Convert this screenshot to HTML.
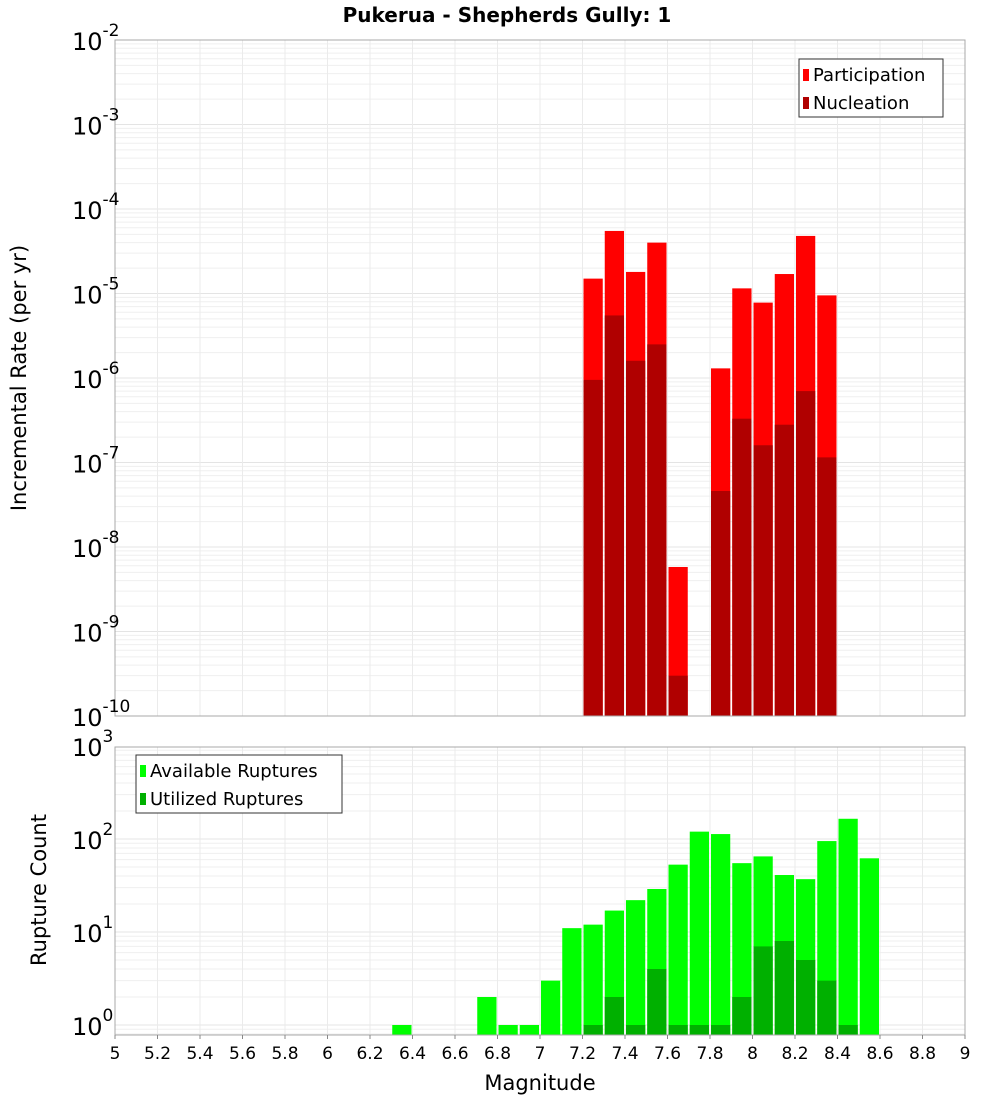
<!DOCTYPE html>
<html><head><meta charset="utf-8"><style>
body{margin:0;background:#fff;font-family:"DejaVu Sans","Liberation Sans",sans-serif}
svg text{font-family:"DejaVu Sans","Liberation Sans",sans-serif}
</style></head><body>
<svg id="c" width="1000" height="1100" xmlns="http://www.w3.org/2000/svg">
<rect width="1000" height="1100" fill="#fff"/>
<text x="507" y="22" text-anchor="middle" font-size="20" font-weight="bold">Pukerua - Shepherds Gully: 1</text>
<g id="g"></g>
</svg>
<script>
const magCenters=[7.25,7.35,7.45,7.55,7.65,7.85,7.95,8.05,8.15,8.25,8.35];
const participation=[1.5e-5,5.5e-5,1.8e-5,4e-5,5.8e-9,1.3e-6,1.15e-5,7.8e-6,1.7e-5,4.8e-5,9.5e-6];
const nucleation=[9.5e-7,5.5e-6,1.6e-6,2.5e-6,3e-10,4.6e-8,3.3e-7,1.6e-7,2.8e-7,7e-7,1.15e-7];
const countMags=[6.35,6.75,6.85,6.95,7.05,7.15,7.25,7.35,7.45,7.55,7.65,7.75,7.85,7.95,8.05,8.15,8.25,8.35,8.45,8.55];
const available=[1,2,1,1,3,11,12,17,22,29,53,120,113,55,65,41,37,95,165,62];
const utilizedMags=[7.25,7.35,7.45,7.55,7.65,7.75,7.85,7.95,8.05,8.15,8.25,8.35,8.45];
const utilized=[1,2,1,4,1,1,1,2,7,8,5,3,1];
const xTicks=[5,5.2,5.4,5.6,5.8,6,6.2,6.4,6.6,6.8,7,7.2,7.4,7.6,7.8,8,8.2,8.4,8.6,8.8,9];
const topExps=[-2,-3,-4,-5,-6,-7,-8,-9,-10];
const botExps=[3,2,1,0];

const NS='http://www.w3.org/2000/svg';const G=document.getElementById('g');
function el(t,a,p){const e=document.createElementNS(NS,t);for(const k in a)e.setAttribute(k,a[k]);(p||G).appendChild(e);return e;}
const L=115,R=965;
const X=m=>L+(m-5)*(R-L)/4;
const T0=40,T1=716,B0=747,B1=1035;
const YT=v=>T0+(-2-Math.log10(v))*(T1-T0)/8;
const BD=93;const YB=v=>1025-Math.log10(v)*BD;
const BW=(R-L)/40-2;

function panel(y0,y1,ymap,loE,hiE){
  el('rect',{x:L,y:y0,width:R-L,height:y1-y0,fill:'#fff',stroke:'none'});
  for(let e=loE;e<hiE+1;e++)for(let k=1;k<10;k++){const y=ymap(k*Math.pow(10,e));if(y<y0-0.5||y>y1+0.5)continue;
    const ln=el('line',{x1:L,x2:R,y1:y,y2:y,stroke:k==1?'#e4e4e4':'#efefef','stroke-width':1});}
  xTicks.forEach(t=>{el('line',{x1:X(t),x2:X(t),y1:y0,y2:y1,stroke:'#ebebeb','stroke-width':1});});
}
panel(T0,T1,YT,-10,-2);
panel(B0,B1,YB,-1,3);

// top bars
magCenters.forEach((m,i)=>{
  const r=el('rect',{x:X(m)-BW/2,y:YT(participation[i]),width:BW,height:T1-YT(participation[i]),fill:'#ff0000'});
  
  
  const n=el('rect',{x:X(m)-BW/2,y:YT(nucleation[i]),width:BW,height:T1-YT(nucleation[i]),fill:'#b00000'});
  
  
});
countMags.forEach((m,i)=>{
  const r=el('rect',{x:X(m)-BW/2,y:YB(available[i]),width:BW,height:B1-YB(available[i]),fill:'#00ff00'});
  
  
});
utilizedMags.forEach((m,i)=>{
  const r=el('rect',{x:X(m)-BW/2,y:YB(utilized[i]),width:BW,height:B1-YB(utilized[i]),fill:'#00b000'});
  
  
});
el('rect',{x:L,y:T0,width:R-L,height:T1-T0,fill:'none',stroke:'#a8a8a8'});
el('rect',{x:L,y:B0,width:R-L,height:B1-B0,fill:'none',stroke:'#a8a8a8'});

function ylab(y,e,nm){const t=el('text',{x:72,y:y+10,'font-size':24});t.textContent='10';
  const s=el('tspan',{dy:-14,'font-size':17});s.textContent=String(e);t.appendChild(s);
  }
topExps.forEach(e=>ylab(YT(Math.pow(10,e)),e,'y-tick-label'));
botExps.forEach(e=>ylab(YB(Math.pow(10,e)),e,'count-tick-label'));
xTicks.forEach(t=>{const tx=el('text',{x:X(t),y:1059,'text-anchor':'middle','font-size':17});tx.textContent=String(t);
  
  el('line',{x1:X(t),x2:X(t),y1:B1,y2:B1+4,stroke:'#888'});});
let t=el('text',{x:540,y:1090,'text-anchor':'middle','font-size':21});t.textContent='Magnitude';

t=el('text',{x:0,y:0,'text-anchor':'middle','font-size':21,transform:'translate(26,378) rotate(-90)'});t.textContent='Incremental Rate (per yr)';

t=el('text',{x:0,y:0,'text-anchor':'middle','font-size':21,transform:'translate(46,890) rotate(-90)'});t.textContent='Rupture Count';


function legend(x,y,w,items,nm){const g=el('g',{});
  el('rect',{x:x,y:y,width:w,height:58,fill:'#fff',stroke:'#333'},g);
  items.forEach((it,i)=>{el('rect',{x:x+4,y:y+10+i*28,width:6,height:12,fill:it[1]},g);
    const tt=el('text',{x:x+14,y:y+22+i*28,'font-size':18},g);tt.textContent=it[0];});}
legend(799,59,144,[['Participation','#ff0000'],['Nucleation','#b00000']],'top-legend');
legend(136,755,206,[['Available Ruptures','#00ff00'],['Utilized Ruptures','#00b000']],'bottom-legend');
</script>
</body></html>
